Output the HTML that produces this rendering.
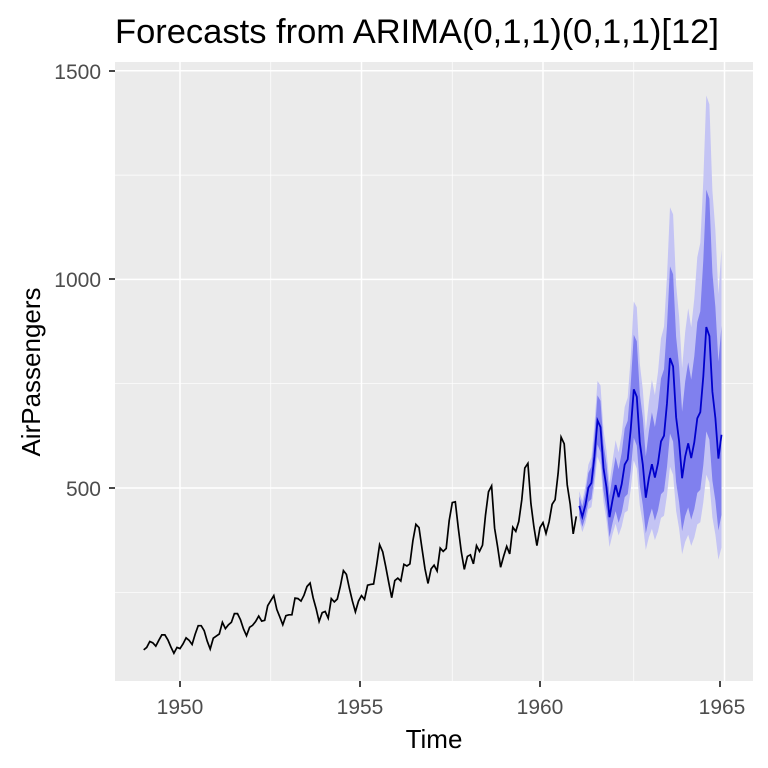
<!DOCTYPE html>
<html><head><meta charset="utf-8"><style>body{margin:0;background:#fff}svg{display:block}</style></head>
<body>
<svg id="s" width="768" height="768" xmlns="http://www.w3.org/2000/svg" font-family="Liberation Sans, Arial, sans-serif">
<rect x="115" y="62" width="638" height="619" fill="#EBEBEB"/>
<g id="grid"></g>
<g id="data"></g>
<g fill="#4D4D4D" font-size="21" text-anchor="end">
<text x="101" y="79">1500</text>
<text x="101" y="287">1000</text>
<text x="101" y="496">500</text>
</g>
<g stroke="#333" stroke-width="1.8">
<line x1="109" x2="115" y1="71" y2="71"/><line x1="109" x2="115" y1="279" y2="279"/><line x1="109" x2="115" y1="488" y2="488"/>
<line x1="180" x2="180" y1="681" y2="687"/><line x1="360" x2="360" y1="681" y2="687"/><line x1="540" x2="540" y1="681" y2="687"/><line x1="720" x2="720" y1="681" y2="687"/>
</g>
<g fill="#4D4D4D" font-size="21" text-anchor="middle">
<text x="180" y="714">1950</text><text x="360" y="714">1955</text><text x="540" y="714">1960</text><text x="722" y="714">1965</text>
</g>
<text x="434" y="748" font-size="26" text-anchor="middle">Time</text>
<text transform="translate(40,372) rotate(-90)" font-size="26" text-anchor="middle">AirPassengers</text>
<text x="115" y="43" font-size="34.5">Forecasts from ARIMA(0,1,1)(0,1,1)[12]</text>
</svg>
<script>
var A=[112,118,132,129,121,135,148,148,136,119,104,118,115,126,141,135,125,149,170,170,158,133,114,140,145,150,178,163,172,178,199,199,184,162,146,166,171,180,193,181,183,218,230,242,209,191,172,194,196,196,236,235,229,243,264,272,237,211,180,201,204,188,235,227,234,264,302,293,259,229,203,229,242,233,267,269,270,315,364,347,312,274,237,278,284,277,317,313,318,374,413,405,355,306,271,306,315,301,356,348,355,422,465,467,404,347,305,336,340,318,362,348,363,435,491,505,404,359,310,337,360,342,406,396,420,472,548,559,463,407,362,405,417,391,419,461,472,535,622,606,508,461,390,432];
function X(t){return 180+36.3*(t-1950);}
function Y(v){return 488-(v-500)*0.4172;}
var ns="http://www.w3.org/2000/svg";
function el(p,tag,at){var e=document.createElementNS(ns,tag);for(var k in at)e.setAttribute(k,at[k]);p.appendChild(e);return e;}
var g=document.getElementById('grid');
[250,750,1250].forEach(function(v){el(g,'line',{x1:115,x2:753,y1:Y(v),y2:Y(v),stroke:'#fff','stroke-width':0.7});});
[1952.5,1957.5,1962.5].forEach(function(t){el(g,'line',{y1:62,y2:681,x1:X(t),x2:X(t),stroke:'#fff','stroke-width':0.7});});
[500,1000,1500].forEach(function(v){el(g,'line',{x1:115,x2:753,y1:Y(v),y2:Y(v),stroke:'#fff','stroke-width':1.5});});
[1950,1955,1960,1965].forEach(function(t){el(g,'line',{y1:62,y2:681,x1:X(t),x2:X(t),stroke:'#fff','stroke-width':1.5});});
var d=document.getElementById('data');
var F=[],lo95=[],hi95=[],lo80=[],hi80=[],T=[];
for(var h=1;h<=48;h++){var m=(h-1)%12,k=Math.floor((h-1)/12);var a=A[132+m];
var f=a+40+k*0.12*a;F.push(f);T.push(1961+(h-1)/12);
var s=0.065+0.0098*h;var s8=s*0.65;
hi95.push(f*Math.exp(s));lo95.push(f*Math.exp(-s*1.05));hi80.push(f*Math.exp(s8));lo80.push(f*Math.exp(-s8*1.05));}
function band(hi,lo,col){var p='';for(var i=0;i<48;i++)p+=(i?'L':'M')+X(T[i]).toFixed(1)+','+Y(hi[i]).toFixed(1);for(var i=47;i>=0;i--)p+='L'+X(T[i]).toFixed(1)+','+Y(lo[i]).toFixed(1);el(d,'path',{d:p+'Z',fill:col});}
band(hi95,lo95,'#C4C4F4');band(hi80,lo80,'#8080EE');
var p='';for(var i=0;i<A.length;i++)p+=(i?'L':'M')+X(1949+i/12).toFixed(1)+','+Y(A[i]).toFixed(1);
el(d,'path',{d:p,fill:'none',stroke:'#000','stroke-width':1.7});
p='';for(var i=0;i<48;i++)p+=(i?'L':'M')+X(T[i]).toFixed(1)+','+Y(F[i]).toFixed(1);
el(d,'path',{d:p,fill:'none',stroke:'#0000CC','stroke-width':1.8});
</script>
</body></html>
